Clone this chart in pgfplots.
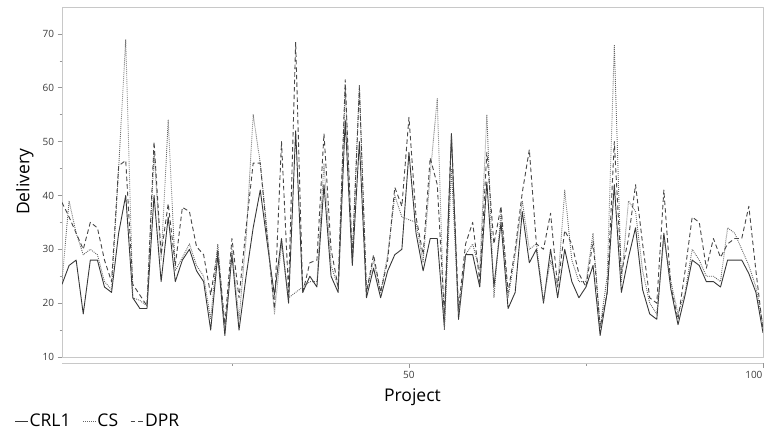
\documentclass[border=0pt]{standalone}
\usepackage{fontspec}
\setmainfont{Open Sans}
\usepackage{pgfplots}
\pgfplotsset{compat=1.18}
\usepackage{pgfplotstable}

\pgfplotstableread{
x crl cs dpr
1 23.5 24 38.7
2 27 39 36
3 28 33 33
4 18 29 30
5 28 30 35
6 28 29 34
7 23 24 28
8 22 22.5 24
9 33 45 45.5
10 40 69 46.5
11 21 21 23.5
12 19 20.5 21.5
13 19 19.5 19.5
14 40 48 50
15 24 28 29
16 36 54 38.5
17 24 26 27
18 28 28.5 37.8
19 30 31 37
20 26 27 30.5
21 24 25 29
22 15 17 21.5
23 29 31 30
24 14 15 16
25 29 30 32
26 15 17 21
27 25 32 34
28 34 55 46
29 41 46 46
30 31 33 32
31 21.5 18 19
32 32 31 50
33 20 21 22
34 52 22 68.5
35 22 23 22
36 25 24 27.5
37 23 24 28
38 42 46 51.5
39 25 27 30
40 22 23 23
41 54 60 61.5
42 27 29 28
43 50 60.5 60
44 21 22 22
45 26.5 28 29
46 21 22 22
47 26 29 28
48 29 40 41.5
49 30 36 38
50 48 35.5 54.5
51 33 35 36
52 26 27.5 29
53 32 44 47
54 32 58 42
55 15.5 15 18
56 51.5 45 51
57 17 18 19
58 29 29 31
59 29 31 35
60 23 26 24
61 42.5 55 48
62 23 21 31
63 35 37 38
64 19 21 22
65 22 29 30
66 37 39 40.5
67 27.5 30 48.5
68 30 31 31
69 20 20.5 30
70 30 28 36.7
71 21 23 23
72 30 41 33.5
73 24 28 31
74 21 24 25.5
75 23 24 23
76 27 33 31.5
77 14 15.5 15.5
78 22 25 22
79 42 68 50
80 22 24 25.5
81 28.5 39 32
82 34 37 42
83 22.5 26 31
84 18 20 21
85 17 18 20
86 33 32 41
87 22.5 24 23
88 16 18 17
89 21.5 22 26
90 28 30 36
91 27 28 35
92 24 25 26.5
93 24 25 32
94 23 24 28.5
95 28 34 31
96 28 33 32
97 28 30 32
98 25.5 27 38
99 22 23 26
100 14.5 16 15
}\data

\definecolor{framegray}{RGB}{200,200,200}
\definecolor{tickgray}{RGB}{150,150,150}
\definecolor{lbl}{RGB}{60,60,60}

\begin{document}
\begin{tikzpicture}[x=1pt,y=1pt]
\useasboundingbox (0,0) rectangle (766,434);
\begin{axis}[
  at={(62pt,77pt)}, anchor=south west,
  scale only axis, width=701pt, height=350pt,
  xmin=1, xmax=100, ymin=10, ymax=75,
  axis line style={framegray, line width=0.8pt},
  xtick={50}, minor xtick={25,75},
  extra x ticks={100},
  extra x tick style={xticklabel style={anchor=north east, xshift=3pt}},
  ytick={10,20,30,40,50,60,70}, minor ytick={15,25,35,45,55,65},
  tick align=outside,
  major tick length=4.5pt, minor tick length=2.5pt,
  tick style={tickgray, line width=0.6pt},
  xtick style={yshift=-6pt},
  xticklabel style={yshift=-6pt},
  xtick pos=bottom, ytick pos=left,
  /pgf/number format/assume math mode=true,
  tick label style={font=\fontsize{10}{12}\selectfont, text=lbl},
  xlabel={Project}, ylabel={Delivery},
  label style={font=\fontsize{17.5}{21}\selectfont},
  xlabel style={at={(axis description cs:0.5,-0.114)}, anchor=center},
  ylabel style={at={(axis description cs:-0.053,0.5)}, anchor=center, rotate=0},
  legend style={draw=none, fill=none, at={(axis description cs:-0.072,-0.183)}, anchor=west,
    font=\fontsize{17.5}{21}\selectfont, legend columns=-1,
    /tikz/every even column/.append style={column sep=11pt},
    nodes={inner sep=1pt}},
  legend image code/.code={\draw[#1] (0pt,0pt) -- (13pt,0pt);},
  line join=round,
]
\addplot[color=black!78, line width=0.9pt] table[x=x, y=crl] {\data};
\addlegendentry{CRL1}
\addplot[color=black!60, line width=0.9pt, dash pattern=on 0.9pt off 1.1pt] table[x=x, y=cs] {\data};
\addlegendentry{CS}
\addplot[color=black!72, line width=0.9pt, dash pattern=on 4.5pt off 3pt] table[x=x, y=dpr] {\data};
\addlegendentry{DPR}
\end{axis}
\draw[framegray, line width=0.8pt] (62,71) -- (763,71);
\end{tikzpicture}
\end{document}
